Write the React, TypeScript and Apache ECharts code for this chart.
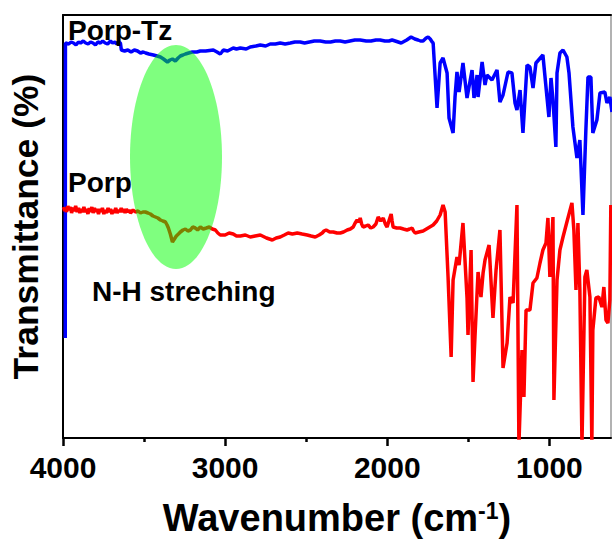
import React, { useEffect, useRef } from "react";
import * as echarts from "echarts";

const FONT = '"Liberation Sans", Arial, sans-serif';

const xMajorTicks = [4000, 3000, 2000, 1000];
const xMinorTicks = [3500, 2500, 1500];

// Porp-Tz (blue) : [wavenumber, transmittance (a.u.)]
const porpTz: number[][] = [
  [3986, 100], [3985, 395], [3965, 394], [3950, 396], [3935, 395], [3920, 393], [3905, 396], [3892, 395],
  [3875, 397], [3860, 395], [3845, 394], [3830, 396], [3815, 395], [3800, 393], [3785, 396], [3769, 395],
  [3755, 397], [3740, 395], [3725, 394], [3707, 397], [3694, 395], [3680, 396], [3668, 394], [3658, 396],
  [3646, 395], [3640, 388], [3620, 387], [3600, 388], [3580, 386], [3560, 388], [3540, 387], [3522, 385],
  [3505, 386], [3490, 385], [3470, 384], [3442, 383], [3420, 382], [3399, 381], [3380, 379], [3356, 376],
  [3340, 378], [3325, 379], [3307, 377], [3290, 380], [3276, 382], [3260, 383], [3245, 384], [3225, 385],
  [3202, 386], [3175, 386], [3153, 387], [3120, 387], [3073, 388], [3050, 386], [3030, 384], [3020, 386],
  [3011, 388], [2985, 387], [2950, 390], [2930, 389], [2906, 390], [2870, 389], [2845, 391], [2810, 392],
  [2783, 393], [2750, 392], [2722, 394], [2690, 394], [2660, 395], [2630, 394], [2598, 395], [2570, 396],
  [2537, 396], [2510, 395], [2480, 396], [2450, 397], [2414, 397], [2380, 396], [2350, 396], [2320, 397],
  [2290, 397], [2260, 396], [2230, 397], [2200, 398], [2167, 398], [2130, 397], [2100, 397], [2070, 398],
  [2044, 398], [2015, 397], [1990, 397], [1970, 398], [1951, 397], [1914, 395], [1880, 398], [1853, 401],
  [1830, 399], [1810, 398], [1795, 397], [1779, 397], [1760, 400], [1748, 401], [1735, 399], [1723, 396],
  [1717, 395], [1693, 330], [1674, 375], [1656, 380], [1631, 365], [1619, 320], [1594, 305], [1582, 341],
  [1570, 366], [1557, 346], [1533, 375], [1508, 340], [1477, 368], [1465, 340], [1446, 363], [1440, 341],
  [1415, 376], [1397, 353], [1385, 363], [1354, 358], [1323, 368], [1305, 336], [1286, 343], [1255, 366],
  [1231, 365], [1212, 335], [1200, 328], [1181, 348], [1163, 305], [1138, 373], [1120, 371], [1101, 350],
  [1083, 375], [1040, 383], [1015, 341], [1003, 321], [990, 360], [978, 338], [960, 291], [953, 365],
  [935, 385], [916, 388], [892, 381], [879, 365], [855, 311], [830, 280], [812, 298], [793, 223],
  [775, 308], [762, 361], [744, 361], [732, 305], [707, 318], [688, 345], [658, 346], [645, 335],
  [627, 341], [614, 326],
];

// Porp (red)
const porp: number[][] = [
  [3997, 231], [3990, 227], [3984, 230], [3978, 226], [3970, 232], [3962, 228], [3954, 231], [3947, 225],
  [3940, 230], [3929, 227], [3922, 232], [3913, 226], [3904, 230], [3896, 225], [3888, 229], [3880, 226],
  [3871, 231], [3863, 226], [3855, 229], [3846, 224], [3838, 230], [3831, 226], [3822, 231], [3814, 225],
  [3806, 230], [3797, 226], [3790, 229], [3781, 224], [3772, 229], [3765, 226], [3757, 230], [3748, 224],
  [3740, 228], [3732, 225], [3722, 230], [3715, 226], [3707, 229], [3698, 224], [3690, 228], [3683, 225],
  [3675, 230], [3666, 225], [3658, 228], [3650, 226], [3641, 230], [3633, 226], [3624, 229], [3617, 225],
  [3609, 229], [3600, 226], [3592, 228], [3584, 225], [3568, 228], [3553, 226], [3537, 227], [3522, 225],
  [3507, 226], [3492, 226], [3476, 225], [3461, 224], [3445, 222], [3430, 221], [3415, 220], [3399, 218],
  [3384, 217], [3368, 216], [3358, 213], [3350, 210], [3338, 204], [3325, 196], [3313, 199], [3301, 202],
  [3288, 204], [3276, 206], [3260, 208], [3245, 209], [3230, 207], [3214, 208], [3200, 211], [3184, 210],
  [3170, 208], [3153, 211], [3135, 209], [3116, 210], [3098, 211], [3079, 209], [3060, 208], [3045, 205],
  [3030, 203], [3000, 203], [2975, 205], [2950, 204], [2930, 202], [2906, 202], [2875, 203], [2845, 201],
  [2815, 202], [2783, 203], [2745, 200], [2709, 198], [2685, 200], [2660, 201], [2635, 203], [2611, 205],
  [2585, 204], [2555, 205], [2525, 204], [2494, 203], [2470, 202], [2444, 201], [2420, 203], [2401, 205],
  [2390, 207], [2377, 208], [2355, 206], [2333, 206], [2310, 205], [2290, 205], [2270, 206], [2247, 208],
  [2228, 209], [2210, 211], [2198, 215], [2186, 218], [2175, 216], [2167, 220], [2158, 214], [2149, 211],
  [2133, 212], [2118, 213], [2102, 210], [2087, 211], [2070, 214], [2056, 221], [2040, 217], [2025, 220],
  [2012, 214], [2001, 211], [1988, 218], [1976, 224], [1970, 217], [1964, 211], [1942, 210], [1921, 210],
  [1900, 209], [1878, 208], [1862, 209], [1847, 210], [1838, 207], [1828, 205], [1805, 206], [1779, 207],
  [1748, 210], [1717, 213], [1695, 217], [1674, 223], [1665, 228], [1656, 233], [1643, 226],
  [1625, 161], [1606, 81], [1594, 158], [1570, 181], [1557, 173], [1533, 215], [1508, 140], [1502, 103],
  [1483, 188], [1471, 56], [1459, 101], [1440, 166], [1422, 141], [1409, 165], [1397, 178], [1372, 193],
  [1348, 120], [1329, 168], [1305, 208], [1286, 70], [1261, 95], [1243, 141], [1224, 135], [1200, 233],
  [1188, -7], [1169, 88], [1157, 41], [1144, 128], [1120, 128], [1101, 155], [1077, 160], [1058, 175],
  [1040, 188], [1021, 195], [1009, 220], [997, 161], [978, 221], [972, 38], [953, 158], [935, 188],
  [916, 201], [892, 216], [861, 235], [849, 208], [836, 148], [824, 215], [812, 148], [799, -7],
  [781, 161], [769, 168], [750, 141], [738, -7], [732, 108], [713, 140], [695, 141], [676, 131],
  [664, 151], [651, 118], [639, 115], [627, 138], [621, 233],
];

const labels = {
  porpTz: "Porp-Tz",
  porp: "Porp",
  nh: "N-H streching",
  yTitle: "Transmittance (%)",
};

export default function App() {
  const ref = useRef<HTMLDivElement>(null);
  useEffect(() => {
    if (!ref.current) return;
    const chart = echarts.init(ref.current, null, { renderer: "svg" });
    const xBase = {
      type: "value" as const,
      min: 620,
      max: 4000,
      inverse: true,
      splitLine: { show: false },
    };
    chart.setOption({
      animation: false,
      backgroundColor: "#fff",
      grid: { left: 63, right: 1, top: 15, bottom: 107, containLabel: false },
      xAxis: [
        {
          ...xBase,
          position: "bottom",
          axisLine: { show: true, lineStyle: { color: "#000", width: 2 } },
          axisTick: { show: true, customValues: xMajorTicks, length: 8, lineStyle: { color: "#000", width: 2.5 } },
          axisLabel: {
            show: true,
            customValues: xMajorTicks,
            formatter: (v: number) => String(v),
            margin: 14,
            fontSize: 30,
            fontWeight: "bold",
            fontFamily: FONT,
            color: "#000",
          },
          name: "{a|Wavenumber (cm}{s|-1}{a|)}",
          nameLocation: "middle",
          nameGap: 61,
          nameTextStyle: {
            rich: {
              a: { fontSize: 38, fontWeight: "bold", fontFamily: FONT, color: "#000" },
              s: { fontSize: 23, fontWeight: "bold", fontFamily: FONT, color: "#000", verticalAlign: "top" },
            },
          },
        },
        {
          ...xBase,
          position: "bottom",
          axisLine: { show: false },
          axisTick: { show: true, customValues: xMinorTicks, length: 4, lineStyle: { color: "#000", width: 2.5 } },
          axisLabel: { show: false },
        },
        {
          ...xBase,
          position: "top",
          axisLine: { show: true, lineStyle: { color: "#000", width: 2 } },
          axisTick: { show: false },
          axisLabel: { show: false },
        },
      ],
      yAxis: [
        {
          type: "value",
          min: 0,
          max: 423,
          position: "left",
          axisLine: { show: true, lineStyle: { color: "#000", width: 2 } },
          axisTick: { show: false },
          axisLabel: { show: false },
          splitLine: { show: false },
          name: labels.yTitle,
          nameLocation: "middle",
          nameGap: 19,
          nameTextStyle: { fontSize: 35.5, fontWeight: "bold", fontFamily: FONT, color: "#000" },
        },
        {
          type: "value",
          min: 0,
          max: 423,
          position: "right",
          axisLine: { show: true, lineStyle: { color: "#999", width: 1.5 } },
          axisTick: { show: false },
          axisLabel: { show: false },
          splitLine: { show: false },
        },
      ],
      series: [
        {
          name: labels.porpTz,
          type: "line",
          data: porpTz,
          showSymbol: false,
          clip: true,
          lineStyle: { color: "#0000ff", width: 3.5 },
          z: 3,
        },
        {
          name: labels.porp,
          type: "line",
          data: porp,
          showSymbol: false,
          clip: true,
          lineStyle: { color: "#ff0000", width: 3.5 },
          z: 3,
        },
      ],
      graphic: [
        {
          type: "ellipse",
          z: 20,
          shape: { cx: 176, cy: 157, rx: 46, ry: 112 },
          style: { fill: "rgba(0,255,0,0.5)" },
        },
        {
          type: "text",
          z: 21,
          x: 68,
          y: 30,
          style: { text: labels.porpTz, font: `bold 28px ${FONT}`, fill: "#000", verticalAlign: "middle" },
        },
        {
          type: "text",
          z: 21,
          x: 68,
          y: 182,
          style: { text: labels.porp, font: `bold 28px ${FONT}`, fill: "#000", verticalAlign: "middle" },
        },
        {
          type: "text",
          z: 21,
          x: 92,
          y: 291,
          style: { text: labels.nh, font: `bold 28px ${FONT}`, fill: "#000", verticalAlign: "middle" },
        },
      ],
    });
    return () => chart.dispose();
  }, []);
  return (
    <div
      ref={ref}
      style={{ position: "fixed", left: 0, top: 0, width: 612, height: 545, background: "#fff" }}
    />
  );
}
